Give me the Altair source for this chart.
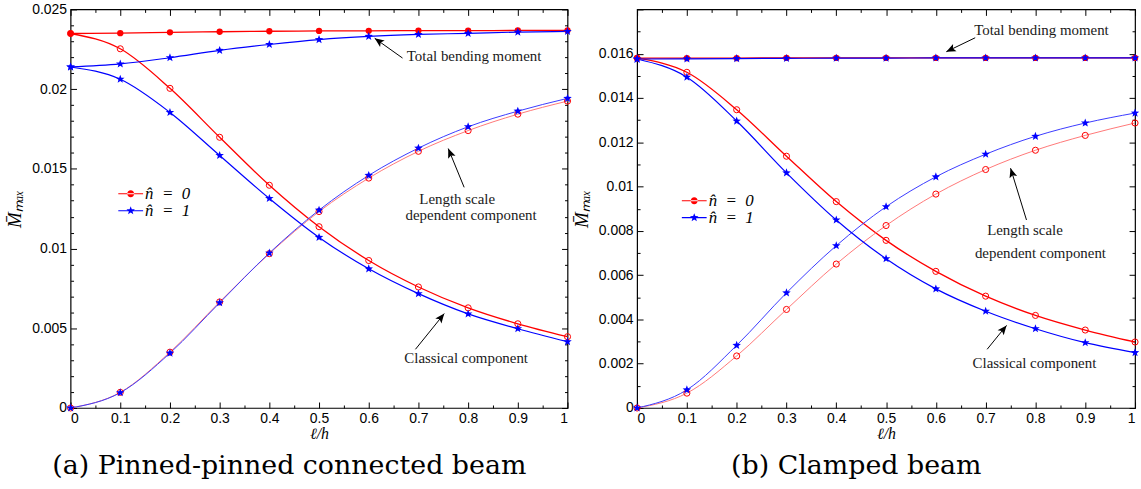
import math
import altair as alt
import pandas as pd

# ---------------------------------------------------------------- data
xs = [0.0, 0.1, 0.2, 0.3, 0.4, 0.5, 0.6, 0.7, 0.8, 0.9, 1.0]

# (a) pinned-pinned connected beam
a_total_n0 = [0.02349, 0.02351, 0.02356, 0.02360, 0.02363, 0.02365, 0.02366, 0.02367, 0.02367, 0.02368, 0.02368]
a_total_n1 = [0.02139, 0.02158, 0.02197, 0.02243, 0.02280, 0.02311, 0.02331, 0.02343, 0.02350, 0.02358, 0.02362]
a_classical_n0 = [0.02349, 0.02253, 0.02005, 0.01698, 0.01397, 0.01137, 0.00925, 0.00759, 0.00628, 0.00528, 0.00447]
a_classical_n1 = [0.02139, 0.02062, 0.01854, 0.01584, 0.01314, 0.01070, 0.00873, 0.00717, 0.00590, 0.00497, 0.00416]
a_length_n0 = [0.0, 0.00098, 0.00350, 0.00665, 0.00968, 0.01232, 0.01442, 0.01610, 0.01740, 0.01843, 0.01925]
a_length_n1 = [0.0, 0.00096, 0.00344, 0.00660, 0.00972, 0.01241, 0.01459, 0.01630, 0.01764, 0.01862, 0.01942]

# (b) clamped beam
b_total_n0 = [0.01580, 0.01580, 0.01580, 0.01581, 0.01581, 0.01581, 0.01581, 0.01581, 0.01581, 0.01581, 0.01581]
b_total_n1 = [0.01576, 0.01577, 0.01578, 0.01579, 0.01580, 0.01580, 0.01581, 0.01581, 0.01581, 0.01581, 0.01581]
b_classical_n0 = [0.01580, 0.01516, 0.01347, 0.01137, 0.00932, 0.00757, 0.00617, 0.00505, 0.00418, 0.00352, 0.00298]
b_classical_n1 = [0.01576, 0.01494, 0.01296, 0.01062, 0.00849, 0.00674, 0.00538, 0.00437, 0.00358, 0.00295, 0.00250]
b_length_n0 = [0.0, 0.00067, 0.00235, 0.00445, 0.00650, 0.00824, 0.00966, 0.01077, 0.01164, 0.01231, 0.01287]
b_length_n1 = [0.0, 0.00082, 0.00283, 0.00520, 0.00733, 0.00909, 0.01044, 0.01146, 0.01227, 0.01287, 0.01332]

# annotation labels and arrows (data coordinates of each panel)
note_texts = ["Total bending moment", "Length scale", "dependent component", "Classical component"]
a_note_x = [0.812, 0.778, 0.806, 0.796]
a_note_y = [0.02207, 0.01309, 0.01210, 0.00312]
a_arrow_x = [0.668, 0.792, 0.694]
a_arrow_y = [0.02195, 0.01384, 0.00368]
a_arrow_x2 = [0.612, 0.760, 0.752]
a_arrow_y2 = [0.02319, 0.01627, 0.00592]

b_note_x = [0.812, 0.779, 0.810, 0.798]
b_note_y = [0.01708, 0.00804, 0.00701, 0.00202]
b_arrow_x = [0.679, 0.782, 0.703]
b_arrow_y = [0.01672, 0.00849, 0.00265]
b_arrow_x2 = [0.621, 0.750, 0.742]
b_arrow_y2 = [0.01609, 0.01083, 0.00373]

# axis tick positions
x_major = [round(i * 0.1, 2) for i in range(11)]
x_minor = [round(i * 0.05, 3) for i in range(21)]
a_y_major = [0, 0.005, 0.01, 0.015, 0.02, 0.025]
a_y_minor = [round(i * 0.001, 4) for i in range(26)]
b_y_major = [0, 0.002, 0.004, 0.006, 0.008, 0.01, 0.012, 0.014, 0.016]
b_y_minor = [round(i * 0.001, 4) for i in range(19)]

H = 401
RED = "#ff0000"
BLUE = "#0000ff"
SERIF = "Liberation Serif"
SANS = "Liberation Sans"


def star_path(cx, r_out, r_in):
    pts = []
    for k in range(10):
        ang = math.radians(-90 + 36 * k)
        r = r_out if k % 2 == 0 else r_in
        pts.append((cx + r * math.cos(ang), r * math.sin(ang)))
    return "M" + "L".join(f"{px:.3f},{py:.3f}" for px, py in pts) + "Z"


STAR = star_path(0, 1, 0.42)
# legend glyphs: a thin bar (the line) with the marker on top of it
LEG_BAR = "M-1.56,-0.07L1.56,-0.07L1.56,0.07L-1.56,0.07Z"
LEG_CIRCLE = LEG_BAR + "M-0.44,0A0.44,0.44,0,1,0,0.44,0A0.44,0.44,0,1,0,-0.44,0Z"
LEG_STAR = LEG_BAR + star_path(0, 0.56, 0.24)
ARROW_HEAD = "M0,0L0.42,1L0,0.78L-0.42,1Z"


def long_table(series):
    recs = []
    for (comp, n), ys in series.items():
        for x, y in zip(xs, ys):
            recs.append({"comp": comp, "n": n, "x": x, "y": y})
    return pd.DataFrame(recs)


def major_test(step):
    return f"abs(datum.value / {step} - round(datum.value / {step})) < 1e-6"


def legend_for(symbol, leg_x, leg_y):
    return alt.Legend(
        title=None, orient="none", legendX=leg_x, legendY=leg_y, padding=0,
        labelExpr="'n̂\u2002=\u2002' + datum.label", labelFont=SERIF, labelFontSize=17,
        labelFontStyle="italic", labelColor="black", labelOffset=6,
        symbolType=symbol, symbolSize=256, symbolStrokeWidth=0, symbolOpacity=1,
    )


def make_panel(series, width, ymax, y_major, y_minor, y_step,
               note_x, note_y, arr_x, arr_y, arr_x2, arr_y2, caption, leg_x, leg_y):
    df = long_table(series)
    xsc = alt.Scale(domain=[0, 1], nice=False, zero=False)
    ysc = alt.Scale(domain=[0, ymax], nice=False, zero=False)

    tick_x = {"condition": {"test": major_test(0.1), "value": 6}, "value": 3}
    tick_y = {"condition": {"test": major_test(y_step), "value": 6}, "value": 3}

    x_lab = alt.Axis(orient="bottom", values=x_major, format="~g", ticks=False, domain=False, grid=False,
                     labelFont=SANS, labelFontSize=14, labelColor="black", labelPadding=4,
                     title="ℓ/h", titleFont=SERIF, titleFontStyle="italic", titleFontWeight="normal",
                     titleFontSize=16, titleColor="black", titlePadding=0)
    y_lab = alt.Axis(orient="left", values=y_major, format="~g", ticks=False, domain=False, grid=False,
                     labelFont=SANS, labelFontSize=14, labelColor="black", labelPadding=4,
                     title="M\u0304ₘₐₓ", titleFont=SERIF, titleFontStyle="italic", titleFontWeight="normal",
                     titleFontSize=19, titleColor="black", titlePadding=7)
    common = dict(labels=False, domain=False, grid=False, ticks=True, tickColor="black", tickWidth=1, title=None)
    x_in_bottom = alt.Axis(orient="top", offset=-H, values=x_minor, tickSize=tick_x, **common)
    x_in_top = alt.Axis(orient="bottom", offset=-H, values=x_minor, tickSize=tick_x, **common)
    y_in_left = alt.Axis(orient="right", offset=-width, values=y_minor, tickSize=tick_y, **common)
    y_in_right = alt.Axis(orient="left", offset=-width, values=y_minor, tickSize=tick_y, **common)

    base = alt.Chart(df)
    # total and classical curves: red first, blue drawn over it
    red_lines = base.transform_filter("datum.comp != 'length' && datum.n == '0'").mark_line(
        interpolate="monotone", strokeWidth=1.3, color=RED
    ).encode(
        x=alt.X("x:Q", scale=xsc, axis=x_lab),
        y=alt.Y("y:Q", scale=ysc, axis=y_lab),
        detail="comp:N",
    )
    blue_lines = base.transform_filter("datum.comp != 'length' && datum.n == '1'").mark_line(
        interpolate="monotone", strokeWidth=1.2, color=BLUE
    ).encode(
        x=alt.X("x:Q", scale=xsc, axis=None),
        y=alt.Y("y:Q", scale=ysc, axis=None),
        detail="comp:N",
    )
    # length scale dependent component: lighter, thinner lines
    length_lines = base.transform_filter("datum.comp == 'length'").mark_line(
        interpolate="monotone", strokeWidth=1
    ).encode(
        x=alt.X("x:Q", scale=xsc, axis=None),
        y=alt.Y("y:Q", scale=ysc, axis=None),
        stroke=alt.condition("datum.n == '0'", alt.value("#ff7878"), alt.value("#3a3aff")),
        detail="n:N",
    )
    # filled red circles carry the first legend entry (colour channel)
    red_filled = base.transform_filter("datum.comp == 'total' && datum.n == '0'").mark_point(
        shape="circle", filled=True, size=40, opacity=1
    ).encode(
        x=alt.X("x:Q", scale=xsc, axis=x_in_bottom),
        y=alt.Y("y:Q", scale=ysc, axis=y_in_left),
        color=alt.Color("n:N", scale=alt.Scale(domain=["0"], range=[RED]),
                        legend=legend_for(LEG_CIRCLE, leg_x, leg_y)),
    )
    red_open = base.transform_filter("datum.comp != 'total' && datum.n == '0'").mark_point(
        shape="circle", filled=False, size=38, color=RED, strokeWidth=1, opacity=1
    ).encode(
        x=alt.X("x:Q", scale=xsc, axis=None),
        y=alt.Y("y:Q", scale=ysc, axis=None),
    )
    # blue stars carry the second legend entry (fill channel)
    blue_stars = base.transform_filter("datum.n == '1'").mark_point(
        shape=STAR, filled=True, size=81, opacity=1
    ).encode(
        x=alt.X("x:Q", scale=xsc, axis=x_in_top),
        y=alt.Y("y:Q", scale=ysc, axis=y_in_right),
        fill=alt.Fill("n:N", scale=alt.Scale(domain=["1"], range=[BLUE]),
                      legend=legend_for(LEG_STAR, leg_x, leg_y + 17)),
    )

    notes = pd.DataFrame({"x": note_x, "y": note_y, "text": note_texts})
    note_layer = alt.Chart(notes).mark_text(
        font=SERIF, fontSize=15, color="#1a1a1a", align="center", baseline="middle"
    ).encode(
        x=alt.X("x:Q", scale=xsc, axis=None),
        y=alt.Y("y:Q", scale=ysc, axis=None),
        text="text:N",
    )

    angles = []
    for x0, y0, x1, y1 in zip(arr_x, arr_y, arr_x2, arr_y2):
        dx = (x1 - x0) * width
        dy = -(y1 - y0) * H / ymax
        angles.append(math.degrees(math.atan2(dx, -dy)) % 360)
    arrows = pd.DataFrame({"x": arr_x, "y": arr_y, "x2": arr_x2, "y2": arr_y2, "angle": angles})
    arrow_lines = alt.Chart(arrows).mark_rule(color="black", strokeWidth=1).encode(
        x=alt.X("x:Q", scale=xsc, axis=None),
        y=alt.Y("y:Q", scale=ysc, axis=None),
        x2="x2:Q",
        y2="y2:Q",
    )
    arrow_heads = alt.Chart(arrows).mark_point(
        shape=ARROW_HEAD, filled=True, size=360, color="black", opacity=1
    ).encode(
        x=alt.X("x2:Q", scale=xsc, axis=None),
        y=alt.Y("y2:Q", scale=ysc, axis=None),
        angle=alt.Angle("angle:Q", scale=None),
    )

    return alt.layer(
        red_lines, length_lines, blue_lines, red_open, red_filled, blue_stars,
        note_layer, arrow_lines, arrow_heads,
    ).resolve_axis(x="independent", y="independent").properties(
        width=width, height=H,
        title=alt.TitleParams(caption, orient="bottom", anchor="middle", frame="bounds",
                              font="DejaVu Serif", fontSize=27, fontWeight="normal",
                              color="black", offset=11),
    )


panel_a = make_panel(
    {("total", "0"): a_total_n0, ("total", "1"): a_total_n1,
     ("classical", "0"): a_classical_n0, ("classical", "1"): a_classical_n1,
     ("length", "0"): a_length_n0, ("length", "1"): a_length_n1},
    500, 0.025, a_y_major, a_y_minor, 0.005,
    a_note_x, a_note_y, a_arrow_x, a_arrow_y, a_arrow_x2, a_arrow_y2,
    "(a) Pinned-pinned connected beam", 52, 177,
)
panel_b = make_panel(
    {("total", "0"): b_total_n0, ("total", "1"): b_total_n1,
     ("classical", "0"): b_classical_n0, ("classical", "1"): b_classical_n1,
     ("length", "0"): b_length_n0, ("length", "1"): b_length_n1},
    501, 0.018, b_y_major, b_y_minor, 0.002,
    b_note_x, b_note_y, b_arrow_x, b_arrow_y, b_arrow_x2, b_arrow_y2,
    "(b) Clamped beam", 49, 184,
)

chart = alt.hconcat(panel_a, panel_b, spacing=70, bounds="flush").resolve_scale(
    x="independent", y="independent", color="independent", fill="independent"
).properties(
    padding={"left": 5, "top": 0, "right": 0, "bottom": 0},
    background="white",
).configure_view(stroke="black", strokeWidth=1.2)

chart.save("out.html", embed_options={"renderer": "svg", "actions": False})
